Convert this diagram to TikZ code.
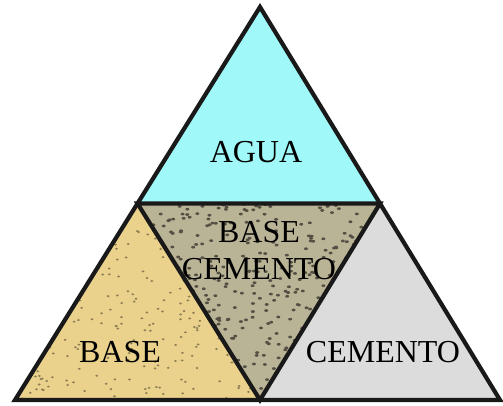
\documentclass[tikz,border=0pt]{standalone}
\usepackage{fontspec}
\setmainfont{Liberation Serif}
\begin{document}
\begin{tikzpicture}[x=1pt,y=-1pt,
  edge/.style={line width=4.2pt,draw=black!90,line join=miter},
  lbl/.style={font=\fontsize{32}{37}\selectfont,inner sep=0pt,text=black}]
\useasboundingbox (0,0) rectangle (503,405);
\definecolor{agua}{RGB}{160,248,248}
\definecolor{sand}{RGB}{234,210,140}
\definecolor{mix}{RGB}{186,180,150}
\definecolor{cem}{RGB}{220,220,220}
\coordinate (T) at (260,7);
\coordinate (L) at (15,400);
\coordinate (R) at (500,400);
\coordinate (ML) at (137.5,203.5);
\coordinate (MR) at (380,203.5);
\coordinate (MB) at (260,400);
\fill[agua] (T) -- (ML) -- (MR) -- cycle;
\fill[sand] (ML) -- (L) -- (MB) -- cycle;
\fill[mix] (ML) -- (MR) -- (MB) -- cycle;
\fill[cem] (MR) -- (MB) -- (R) -- cycle;
\pgfmathsetseed{7}
\begin{scope}
\clip (ML) -- (L) -- (MB) -- cycle;
\foreach \i in {1,...,260}{
  \pgfmathsetmacro\px{137+123*rand}
  \pgfmathsetmacro\py{302+98*rand}
  \fill[black!40!sand] (\px,\py) ellipse (1.5 and 1.1);
}
\end{scope}
\begin{scope}
\clip (ML) -- (MR) -- (MB) -- cycle;
\foreach \i in {1,...,450}{
  \pgfmathsetmacro\px{259+121*rand}
  \pgfmathsetmacro\py{302+98*rand}
  \fill[black!55!mix] (\px,\py) ellipse (2 and 1.4);
}
\end{scope}
\draw[edge] (T) -- (L) -- (R) -- cycle;
\draw[edge] (ML) -- (MR) -- (MB) -- cycle;
\node[lbl] (agua) at (256,152) {AGUA};
\node[lbl,align=center] (bc) at (259,251) {BASE\\CEMENTO};
\node[lbl] (base) at (120,352) {BASE};
\node[lbl] (cemento) at (383,352) {CEMENTO};
\end{tikzpicture}
\end{document}
